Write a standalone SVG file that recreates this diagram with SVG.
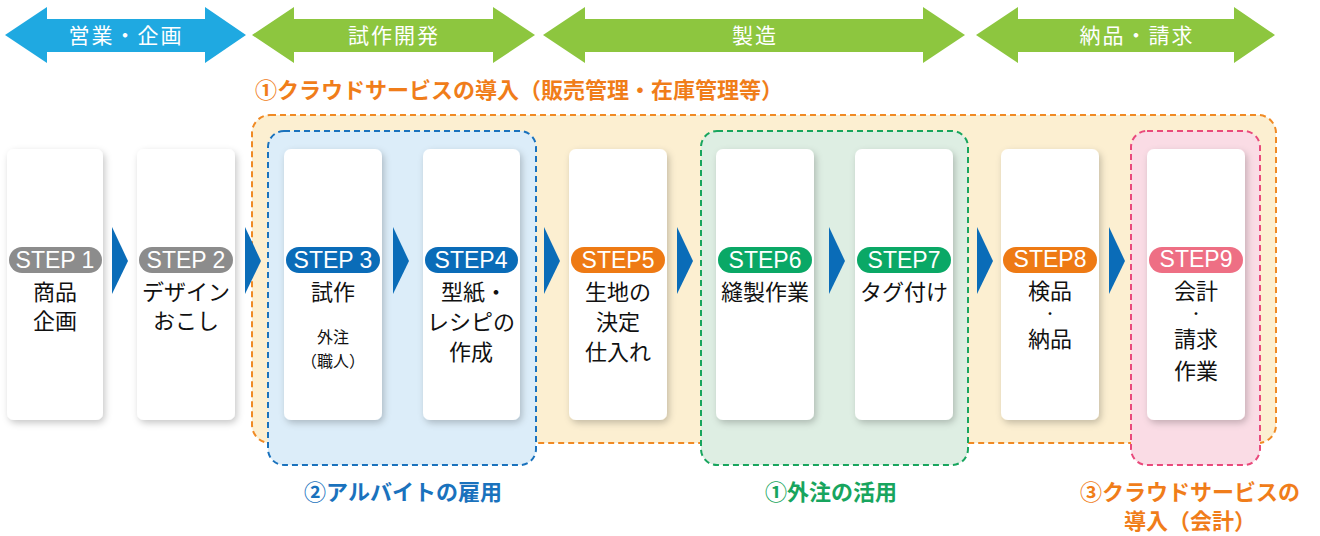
<svg xmlns="http://www.w3.org/2000/svg" width="1320" height="536" viewBox="0 0 1320 536">
<defs>
<filter id="sh" x="-20%" y="-10%" width="140%" height="120%">
<feDropShadow dx="2" dy="3" stdDeviation="3.5" flood-color="#000" flood-opacity="0.22"/>
</filter>
<style>
.jp{font-family:"Noto Sans CJK JP","Noto Sans CJK SC",sans-serif;}
.ar{font-size:21px;fill:#fff;text-anchor:middle;letter-spacing:2px;}
.card{fill:#fff;filter:url(#sh);}
.badge-t{font-family:"Liberation Sans","Noto Sans CJK JP",sans-serif;font-size:23px;fill:#fff;text-anchor:middle;}
.ct{font-size:22px;fill:#111;text-anchor:middle;}
.cs{font-size:16px;fill:#111;text-anchor:middle;}
.dot{font-size:11px;font-weight:bold;fill:#111;text-anchor:middle;}
.chev{fill:#0a6cb8;}
.reg{stroke-width:2;stroke-dasharray:6 4;}
.lbl{font-size:22px;font-weight:bold;text-anchor:middle;}
</style>
</defs>
<rect width="1320" height="536" fill="#fff"/>

<g id="phases">
<path d="M5,35 L47,7 L47,19 L205,19 L205,7 L246,35 L205,63 L205,52 L47,52 L47,63 Z" fill="#1fa9e1"/>
<text class="jp ar" x="126" y="43">営業・企画</text>
<path d="M252,35 L294,7 L294,19 L493,19 L493,7 L535,35 L493,63 L493,52 L294,52 L294,63 Z" fill="#8dc63f"/>
<text class="jp ar" x="394" y="43">試作開発</text>
<path d="M543,35 L585,7 L585,19 L923,19 L923,7 L965,35 L923,63 L923,52 L585,52 L585,63 Z" fill="#8dc63f"/>
<text class="jp ar" x="755" y="43">製造</text>
<path d="M976,35 L1018,7 L1018,19 L1234,19 L1234,7 L1275,35 L1234,63 L1234,52 L1018,52 L1018,63 Z" fill="#8dc63f"/>
<text class="jp ar" x="1137" y="43">納品・請求</text>
</g>

<g id="regions">
<rect id="region-cloud" class="reg" x="252" y="115" width="1024" height="328" rx="18" fill="#fcefd1" stroke="#f08a24"/>
<rect id="region-part" class="reg" x="268" y="131" width="268" height="334" rx="16" fill="#dcedf9" stroke="#1a72bd"/>
<rect id="region-out" class="reg" x="701" y="131" width="267" height="334" rx="16" fill="#deeee3" stroke="#18a55e"/>
<rect id="region-acc" class="reg" x="1131" y="131" width="129" height="334" rx="16" fill="#fadce5" stroke="#e94a7c"/>
<text class="jp lbl" x="519" y="98" fill="#f07d1a">①クラウドサービスの導入（販売管理・在庫管理等）</text>
<text class="jp lbl" x="403" y="500" fill="#1a72bd">②アルバイトの雇用</text>
<text class="jp lbl" x="831" y="500" fill="#18a55e">①外注の活用</text>
<text class="jp lbl" x="1190" y="500" fill="#f07d1a">③クラウドサービスの</text>
<text class="jp lbl" x="1190" y="529" fill="#f07d1a">導入（会計）</text>
</g>

<g id="connectors">
<path class="chev" d="M112,227 L128,261 L112,294 Z"/>
<path class="chev" d="M245,227 L261,261 L245,294 Z"/>
<path class="chev" d="M393,227 L409,261 L393,294 Z"/>
<path class="chev" d="M544,227 L560,261 L544,294 Z"/>
<path class="chev" d="M677,227 L693,261 L677,294 Z"/>
<path class="chev" d="M829,227 L845,261 L829,294 Z"/>
<path class="chev" d="M977,227 L993,261 L977,294 Z"/>
<path class="chev" d="M1109,227 L1125,261 L1109,294 Z"/>
</g>

<g id="step1">
<rect class="card" x="7" y="149" width="96" height="271" rx="7"/>
<rect x="9" y="247" width="93" height="26" rx="13" fill="#8c8c8c"/>
<text class="badge-t" x="55" y="268">STEP 1</text>
<text class="jp ct" x="55" y="300">商品</text>
<text class="jp ct" x="55" y="329">企画</text>
</g>
<g id="step2">
<rect class="card" x="137" y="149" width="98" height="271" rx="7"/>
<rect x="139" y="247" width="94" height="26" rx="13" fill="#8c8c8c"/>
<text class="badge-t" x="186" y="268">STEP 2</text>
<text class="jp ct" x="186" y="300">デザイン</text>
<text class="jp ct" x="186" y="329">おこし</text>
</g>
<g id="step3">
<rect class="card" x="284" y="149" width="98" height="271" rx="7"/>
<rect x="286" y="247" width="94" height="26" rx="13" fill="#0a6cb8"/>
<text class="badge-t" x="333" y="268">STEP 3</text>
<text class="jp ct" x="333" y="300">試作</text>
<text class="jp cs" x="333" y="343">外注</text>
<text class="jp cs" x="333" y="367">（職人）</text>
</g>
<g id="step4">
<rect class="card" x="423" y="149" width="97" height="271" rx="7"/>
<rect x="425" y="247" width="93" height="26" rx="13" fill="#0a6cb8"/>
<text class="badge-t" x="471" y="268">STEP4</text>
<text class="jp ct" x="474" y="300">型紙・</text>
<text class="jp ct" x="471" y="330">レシピの</text>
<text class="jp ct" x="471" y="360">作成</text>
</g>
<g id="step5">
<rect class="card" x="569" y="149" width="98" height="271" rx="7"/>
<rect x="571" y="247" width="94" height="26" rx="13" fill="#ee7a14"/>
<text class="badge-t" x="618" y="268">STEP5</text>
<text class="jp ct" x="618" y="300">生地の</text>
<text class="jp ct" x="618" y="330">決定</text>
<text class="jp ct" x="618" y="360">仕入れ</text>
</g>
<g id="step6">
<rect class="card" x="716" y="149" width="98" height="271" rx="7"/>
<rect x="718" y="247" width="94" height="26" rx="13" fill="#0aa866"/>
<text class="badge-t" x="765" y="268">STEP6</text>
<text class="jp ct" x="765" y="300">縫製作業</text>
</g>
<g id="step7">
<rect class="card" x="855" y="149" width="98" height="271" rx="7"/>
<rect x="857" y="247" width="94" height="26" rx="13" fill="#0aa866"/>
<text class="badge-t" x="904" y="268">STEP7</text>
<text class="jp ct" x="904" y="300">タグ付け</text>
</g>
<g id="step8">
<rect class="card" x="1001" y="149" width="98" height="271" rx="7"/>
<rect x="1003" y="247" width="94" height="26" rx="13" fill="#ee7a14"/>
<text class="badge-t" x="1050" y="267">STEP8</text>
<text class="jp ct" x="1050" y="298.5">検品</text>
<text class="jp dot" x="1050" y="317.5">・</text>
<text class="jp ct" x="1050" y="346.5">納品</text>
</g>
<g id="step9">
<rect class="card" x="1147" y="149" width="98" height="271" rx="7"/>
<rect x="1149" y="247" width="94" height="26" rx="13" fill="#ee6f84"/>
<text class="badge-t" x="1196" y="267">STEP9</text>
<text class="jp ct" x="1196" y="298.5">会計</text>
<text class="jp dot" x="1196" y="317.5">・</text>
<text class="jp ct" x="1196" y="346.5">請求</text>
<text class="jp ct" x="1196" y="378.5">作業</text>
</g>
</svg>
